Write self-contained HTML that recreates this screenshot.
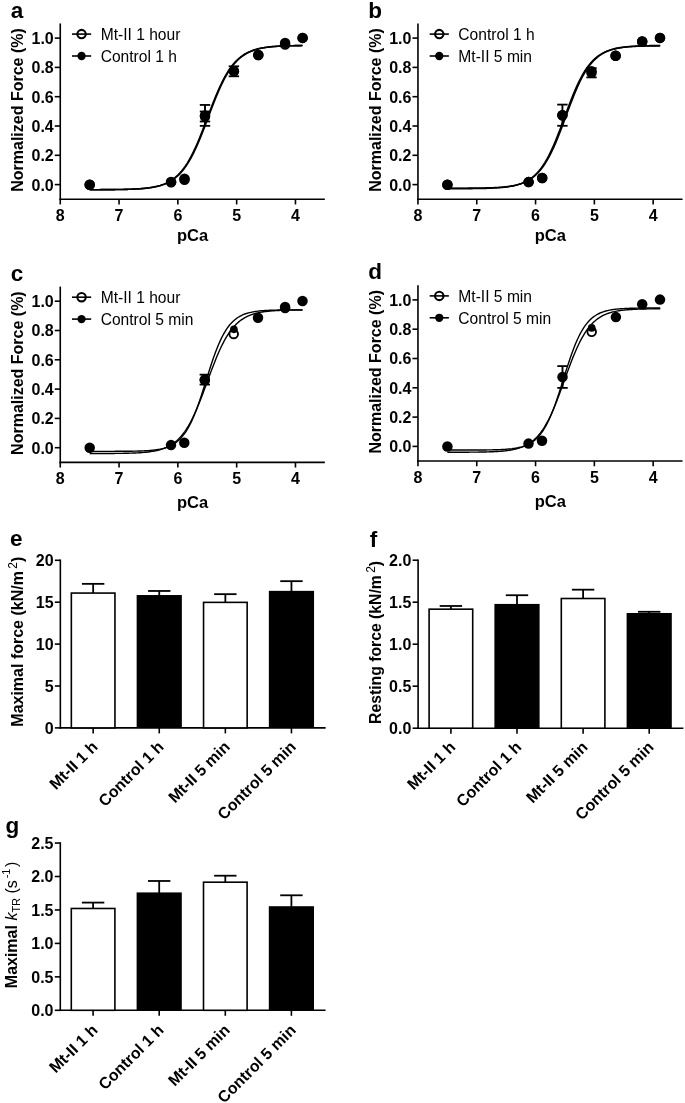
<!DOCTYPE html>
<html><head><meta charset="utf-8"><style>
html,body{margin:0;padding:0;background:#fff;}
svg{display:block;will-change:transform;}
text{font-family:"Liberation Sans", sans-serif;fill:#000;}
</style></head><body>
<svg width="685" height="1103" viewBox="0 0 685 1103">
<rect width="685" height="1103" fill="#fff"/>
<text x="10.66" y="17.50" font-size="22.5" font-weight="bold" text-anchor="start" >a</text>
<line x1="60.26" y1="23.45" x2="60.26" y2="200.05" stroke="#000" stroke-width="1.6"/>
<line x1="59.46" y1="199.25" x2="324.86" y2="199.25" stroke="#000" stroke-width="1.6"/>
<line x1="54.76" y1="184.60" x2="60.26" y2="184.60" stroke="#000" stroke-width="1.6"/>
<text x="53.76" y="190.50" font-size="16" font-weight="bold" text-anchor="end" >0.0</text>
<line x1="54.76" y1="155.30" x2="60.26" y2="155.30" stroke="#000" stroke-width="1.6"/>
<text x="53.76" y="161.20" font-size="16" font-weight="bold" text-anchor="end" >0.2</text>
<line x1="54.76" y1="126.00" x2="60.26" y2="126.00" stroke="#000" stroke-width="1.6"/>
<text x="53.76" y="131.90" font-size="16" font-weight="bold" text-anchor="end" >0.4</text>
<line x1="54.76" y1="96.70" x2="60.26" y2="96.70" stroke="#000" stroke-width="1.6"/>
<text x="53.76" y="102.60" font-size="16" font-weight="bold" text-anchor="end" >0.6</text>
<line x1="54.76" y1="67.40" x2="60.26" y2="67.40" stroke="#000" stroke-width="1.6"/>
<text x="53.76" y="73.30" font-size="16" font-weight="bold" text-anchor="end" >0.8</text>
<line x1="54.76" y1="38.10" x2="60.26" y2="38.10" stroke="#000" stroke-width="1.6"/>
<text x="53.76" y="44.00" font-size="16" font-weight="bold" text-anchor="end" >1.0</text>
<line x1="60.26" y1="199.25" x2="60.26" y2="204.45" stroke="#000" stroke-width="1.6"/>
<text x="60.26" y="221.05" font-size="16" font-weight="bold" text-anchor="middle" >8</text>
<line x1="119.06" y1="199.25" x2="119.06" y2="204.45" stroke="#000" stroke-width="1.6"/>
<text x="119.06" y="221.05" font-size="16" font-weight="bold" text-anchor="middle" >7</text>
<line x1="177.86" y1="199.25" x2="177.86" y2="204.45" stroke="#000" stroke-width="1.6"/>
<text x="177.86" y="221.05" font-size="16" font-weight="bold" text-anchor="middle" >6</text>
<line x1="236.66" y1="199.25" x2="236.66" y2="204.45" stroke="#000" stroke-width="1.6"/>
<text x="236.66" y="221.05" font-size="16" font-weight="bold" text-anchor="middle" >5</text>
<line x1="295.46" y1="199.25" x2="295.46" y2="204.45" stroke="#000" stroke-width="1.6"/>
<text x="295.46" y="221.05" font-size="16" font-weight="bold" text-anchor="middle" >4</text>
<text x="192.56" y="240.95" font-size="16.5" font-weight="bold" text-anchor="middle" >pCa</text>
<text x="0" y="0" font-size="16" font-weight="bold" text-anchor="middle" transform="translate(22.86,110.00) rotate(-90)">Normalized Force (%)</text>
<line x1="71.96" y1="34.10" x2="91.16" y2="34.10" stroke="#000" stroke-width="1.6"/>
<circle cx="81.56" cy="34.10" r="4.2" fill="none" stroke="#000" stroke-width="2.1"/>
<text x="100.66" y="39.80" font-size="15.6" font-weight="normal" text-anchor="start" >Mt-II 1 hour</text>
<line x1="71.96" y1="56.00" x2="91.16" y2="56.00" stroke="#000" stroke-width="1.6"/>
<circle cx="81.56" cy="56.00" r="4.15" fill="#000"/>
<text x="100.66" y="61.70" font-size="15.6" font-weight="normal" text-anchor="start" >Control 1 h</text>
<polyline points="89.66,189.70 90.84,189.70 92.01,189.70 93.19,189.70 94.36,189.69 95.54,189.69 96.72,189.69 97.89,189.68 99.07,189.68 100.24,189.68 101.42,189.67 102.60,189.67 103.77,189.66 104.95,189.66 106.12,189.65 107.30,189.64 108.48,189.63 109.65,189.63 110.83,189.62 112.00,189.61 113.18,189.59 114.36,189.58 115.53,189.57 116.71,189.56 117.88,189.54 119.06,189.52 120.24,189.50 121.41,189.48 122.59,189.46 123.76,189.44 124.94,189.41 126.12,189.38 127.29,189.35 128.47,189.32 129.64,189.28 130.82,189.24 132.00,189.20 133.17,189.15 134.35,189.10 135.52,189.04 136.70,188.98 137.88,188.91 139.05,188.84 140.23,188.76 141.40,188.67 142.58,188.58 143.76,188.48 144.93,188.37 146.11,188.24 147.28,188.11 148.46,187.97 149.64,187.81 150.81,187.64 151.99,187.45 153.16,187.25 154.34,187.03 155.52,186.79 156.69,186.53 157.87,186.25 159.04,185.94 160.22,185.61 161.40,185.25 162.57,184.86 163.75,184.44 164.92,183.98 166.10,183.48 167.28,182.94 168.45,182.36 169.63,181.73 170.80,181.05 171.98,180.31 173.16,179.52 174.33,178.67 175.51,177.75 176.68,176.77 177.86,175.71 179.04,174.57 180.21,173.36 181.39,172.06 182.56,170.67 183.74,169.20 184.92,167.62 186.09,165.95 187.27,164.18 188.44,162.31 189.62,160.34 190.80,158.26 191.97,156.08 193.15,153.79 194.32,151.41 195.50,148.92 196.68,146.34 197.85,143.67 199.03,140.91 200.20,138.08 201.38,135.17 202.56,132.21 203.73,129.19 204.91,126.13 206.08,123.03 207.26,119.92 208.44,116.80 209.61,113.68 210.79,110.57 211.96,107.49 213.14,104.45 214.32,101.46 215.49,98.52 216.67,95.65 217.84,92.85 219.02,90.14 220.20,87.51 221.37,84.98 222.55,82.54 223.72,80.20 224.90,77.97 226.08,75.84 227.25,73.81 228.43,71.89 229.60,70.07 230.78,68.35 231.96,66.73 233.13,65.21 234.31,63.77 235.48,62.43 236.66,61.17 237.84,60.00 239.01,58.90 240.19,57.88 241.36,56.93 242.54,56.05 243.72,55.23 244.89,54.47 246.07,53.76 247.24,53.10 248.42,52.50 249.60,51.94 250.77,51.42 251.95,50.94 253.12,50.50 254.30,50.09 255.48,49.72 256.65,49.37 257.83,49.05 259.00,48.76 260.18,48.49 261.36,48.24 262.53,48.01 263.71,47.80 264.88,47.61 266.06,47.43 267.24,47.26 268.41,47.11 269.59,46.97 270.76,46.85 271.94,46.73 273.12,46.62 274.29,46.52 275.47,46.43 276.64,46.35 277.82,46.27 279.00,46.20 280.17,46.14 281.35,46.08 282.52,46.03 283.70,45.98 284.88,45.93 286.05,45.89 287.23,45.85 288.40,45.82 289.58,45.78 290.76,45.75 291.93,45.73 293.11,45.70 294.28,45.68 295.46,45.66 296.64,45.64 297.81,45.62 298.99,45.60 300.16,45.59 301.34,45.58 302.52,45.56" fill="none" stroke="#000" stroke-width="1.6"/>
<polyline points="89.66,189.70 90.84,189.70 92.01,189.70 93.19,189.70 94.36,189.69 95.54,189.69 96.72,189.69 97.89,189.68 99.07,189.68 100.24,189.67 101.42,189.67 102.60,189.66 103.77,189.66 104.95,189.65 106.12,189.64 107.30,189.64 108.48,189.63 109.65,189.62 110.83,189.61 112.00,189.60 113.18,189.59 114.36,189.58 115.53,189.56 116.71,189.55 117.88,189.53 119.06,189.51 120.24,189.49 121.41,189.47 122.59,189.45 123.76,189.42 124.94,189.40 126.12,189.37 127.29,189.33 128.47,189.30 129.64,189.26 130.82,189.22 132.00,189.17 133.17,189.12 134.35,189.07 135.52,189.01 136.70,188.94 137.88,188.87 139.05,188.79 140.23,188.71 141.40,188.62 142.58,188.52 143.76,188.41 144.93,188.29 146.11,188.17 147.28,188.03 148.46,187.87 149.64,187.71 150.81,187.53 151.99,187.33 153.16,187.12 154.34,186.89 155.52,186.64 156.69,186.37 157.87,186.07 159.04,185.75 160.22,185.40 161.40,185.02 162.57,184.61 163.75,184.16 164.92,183.68 166.10,183.16 167.28,182.60 168.45,181.98 169.63,181.33 170.80,180.61 171.98,179.85 173.16,179.02 174.33,178.13 175.51,177.17 176.68,176.14 177.86,175.04 179.04,173.86 180.21,172.59 181.39,171.24 182.56,169.80 183.74,168.26 184.92,166.63 186.09,164.90 187.27,163.07 188.44,161.14 189.62,159.10 190.80,156.96 191.97,154.72 193.15,152.37 194.32,149.93 195.50,147.38 196.68,144.75 197.85,142.03 199.03,139.22 200.20,136.34 201.38,133.40 202.56,130.40 203.73,127.35 204.91,124.27 206.08,121.17 207.26,118.04 208.44,114.92 209.61,111.81 210.79,108.72 211.96,105.66 213.14,102.65 214.32,99.69 215.49,96.79 216.67,93.96 217.84,91.21 219.02,88.55 220.20,85.98 221.37,83.50 222.55,81.13 223.72,78.85 224.90,76.68 226.08,74.61 227.25,72.65 228.43,70.79 229.60,69.03 230.78,67.37 231.96,65.80 233.13,64.34 234.31,62.96 235.48,61.67 236.66,60.46 237.84,59.33 239.01,58.28 240.19,57.30 241.36,56.39 242.54,55.55 243.72,54.76 244.89,54.03 246.07,53.36 247.24,52.74 248.42,52.16 249.60,51.62 250.77,51.13 251.95,50.67 253.12,50.25 254.30,49.86 255.48,49.51 256.65,49.18 257.83,48.87 259.00,48.59 260.18,48.34 261.36,48.10 262.53,47.88 263.71,47.68 264.88,47.50 266.06,47.33 267.24,47.17 268.41,47.03 269.59,46.90 270.76,46.78 271.94,46.66 273.12,46.56 274.29,46.47 275.47,46.38 276.64,46.30 277.82,46.23 279.00,46.16 280.17,46.10 281.35,46.05 282.52,46.00 283.70,45.95 284.88,45.91 286.05,45.87 287.23,45.83 288.40,45.80 289.58,45.77 290.76,45.74 291.93,45.71 293.11,45.69 294.28,45.67 295.46,45.65 296.64,45.63 297.81,45.61 298.99,45.60 300.16,45.58 301.34,45.57 302.52,45.56" fill="none" stroke="#000" stroke-width="1.6"/>
<line x1="205.00" y1="104.95" x2="205.00" y2="125.85" stroke="#000" stroke-width="1.9"/>
<line x1="233.90" y1="66.30" x2="233.90" y2="76.30" stroke="#000" stroke-width="1.9"/>
<line x1="205.00" y1="111.50" x2="205.00" y2="121.50" stroke="#000" stroke-width="1.9"/>
<circle cx="89.70" cy="184.70" r="4.3" fill="#fff" stroke="#000" stroke-width="1.9"/>
<circle cx="171.10" cy="182.30" r="4.3" fill="#fff" stroke="#000" stroke-width="1.9"/>
<circle cx="184.50" cy="179.80" r="4.3" fill="#fff" stroke="#000" stroke-width="1.9"/>
<circle cx="205.00" cy="115.40" r="4.3" fill="#fff" stroke="#000" stroke-width="1.9"/>
<circle cx="233.90" cy="71.30" r="4.3" fill="#fff" stroke="#000" stroke-width="1.9"/>
<circle cx="258.30" cy="55.00" r="4.3" fill="#fff" stroke="#000" stroke-width="1.9"/>
<circle cx="285.10" cy="44.60" r="4.3" fill="#fff" stroke="#000" stroke-width="1.9"/>
<circle cx="302.60" cy="37.90" r="4.3" fill="#fff" stroke="#000" stroke-width="1.9"/>
<circle cx="89.70" cy="184.70" r="5.25" fill="#000"/>
<circle cx="171.10" cy="181.90" r="5.25" fill="#000"/>
<circle cx="184.50" cy="178.80" r="5.25" fill="#000"/>
<circle cx="205.00" cy="116.50" r="5.25" fill="#000"/>
<circle cx="233.90" cy="71.30" r="5.25" fill="#000"/>
<circle cx="258.30" cy="55.00" r="5.25" fill="#000"/>
<circle cx="285.10" cy="42.90" r="5.25" fill="#000"/>
<circle cx="302.60" cy="37.90" r="5.25" fill="#000"/>
<line x1="199.80" y1="104.95" x2="210.20" y2="104.95" stroke="#000" stroke-width="1.8"/>
<line x1="199.80" y1="125.85" x2="210.20" y2="125.85" stroke="#000" stroke-width="1.8"/>
<line x1="228.70" y1="66.30" x2="239.10" y2="66.30" stroke="#000" stroke-width="1.8"/>
<line x1="228.70" y1="76.30" x2="239.10" y2="76.30" stroke="#000" stroke-width="1.8"/>
<line x1="199.80" y1="111.50" x2="210.20" y2="111.50" stroke="#000" stroke-width="1.8"/>
<line x1="199.80" y1="121.50" x2="210.20" y2="121.50" stroke="#000" stroke-width="1.8"/>
<text x="368.36" y="17.50" font-size="22.5" font-weight="bold" text-anchor="start" >b</text>
<line x1="417.96" y1="23.45" x2="417.96" y2="200.05" stroke="#000" stroke-width="1.6"/>
<line x1="417.16" y1="199.25" x2="682.56" y2="199.25" stroke="#000" stroke-width="1.6"/>
<line x1="412.46" y1="184.60" x2="417.96" y2="184.60" stroke="#000" stroke-width="1.6"/>
<text x="411.46" y="190.50" font-size="16" font-weight="bold" text-anchor="end" >0.0</text>
<line x1="412.46" y1="155.30" x2="417.96" y2="155.30" stroke="#000" stroke-width="1.6"/>
<text x="411.46" y="161.20" font-size="16" font-weight="bold" text-anchor="end" >0.2</text>
<line x1="412.46" y1="126.00" x2="417.96" y2="126.00" stroke="#000" stroke-width="1.6"/>
<text x="411.46" y="131.90" font-size="16" font-weight="bold" text-anchor="end" >0.4</text>
<line x1="412.46" y1="96.70" x2="417.96" y2="96.70" stroke="#000" stroke-width="1.6"/>
<text x="411.46" y="102.60" font-size="16" font-weight="bold" text-anchor="end" >0.6</text>
<line x1="412.46" y1="67.40" x2="417.96" y2="67.40" stroke="#000" stroke-width="1.6"/>
<text x="411.46" y="73.30" font-size="16" font-weight="bold" text-anchor="end" >0.8</text>
<line x1="412.46" y1="38.10" x2="417.96" y2="38.10" stroke="#000" stroke-width="1.6"/>
<text x="411.46" y="44.00" font-size="16" font-weight="bold" text-anchor="end" >1.0</text>
<line x1="417.96" y1="199.25" x2="417.96" y2="204.45" stroke="#000" stroke-width="1.6"/>
<text x="417.96" y="221.05" font-size="16" font-weight="bold" text-anchor="middle" >8</text>
<line x1="476.76" y1="199.25" x2="476.76" y2="204.45" stroke="#000" stroke-width="1.6"/>
<text x="476.76" y="221.05" font-size="16" font-weight="bold" text-anchor="middle" >7</text>
<line x1="535.56" y1="199.25" x2="535.56" y2="204.45" stroke="#000" stroke-width="1.6"/>
<text x="535.56" y="221.05" font-size="16" font-weight="bold" text-anchor="middle" >6</text>
<line x1="594.36" y1="199.25" x2="594.36" y2="204.45" stroke="#000" stroke-width="1.6"/>
<text x="594.36" y="221.05" font-size="16" font-weight="bold" text-anchor="middle" >5</text>
<line x1="653.16" y1="199.25" x2="653.16" y2="204.45" stroke="#000" stroke-width="1.6"/>
<text x="653.16" y="221.05" font-size="16" font-weight="bold" text-anchor="middle" >4</text>
<text x="550.26" y="240.95" font-size="16.5" font-weight="bold" text-anchor="middle" >pCa</text>
<text x="0" y="0" font-size="16" font-weight="bold" text-anchor="middle" transform="translate(380.56,110.00) rotate(-90)">Normalized Force (%)</text>
<line x1="429.66" y1="34.10" x2="448.86" y2="34.10" stroke="#000" stroke-width="1.6"/>
<circle cx="439.26" cy="34.10" r="4.2" fill="none" stroke="#000" stroke-width="2.1"/>
<text x="458.36" y="39.80" font-size="15.6" font-weight="normal" text-anchor="start" >Control 1 h</text>
<line x1="429.66" y1="56.00" x2="448.86" y2="56.00" stroke="#000" stroke-width="1.6"/>
<circle cx="439.26" cy="56.00" r="4.15" fill="#000"/>
<text x="458.36" y="61.70" font-size="15.6" font-weight="normal" text-anchor="start" >Mt-II 5 min</text>
<polyline points="447.36,188.24 448.54,188.24 449.71,188.24 450.89,188.24 452.06,188.24 453.24,188.23 454.42,188.23 455.59,188.23 456.77,188.23 457.94,188.22 459.12,188.22 460.30,188.22 461.47,188.21 462.65,188.21 463.82,188.20 465.00,188.19 466.18,188.19 467.35,188.18 468.53,188.17 469.70,188.17 470.88,188.16 472.06,188.15 473.23,188.14 474.41,188.12 475.58,188.11 476.76,188.10 477.94,188.08 479.11,188.06 480.29,188.05 481.46,188.03 482.64,188.00 483.82,187.98 484.99,187.95 486.17,187.92 487.34,187.89 488.52,187.86 489.70,187.82 490.87,187.78 492.05,187.73 493.22,187.69 494.40,187.63 495.58,187.57 496.75,187.51 497.93,187.44 499.10,187.36 500.28,187.28 501.46,187.19 502.63,187.09 503.81,186.98 504.98,186.86 506.16,186.73 507.34,186.59 508.51,186.44 509.69,186.27 510.86,186.08 512.04,185.88 513.22,185.67 514.39,185.43 515.57,185.17 516.74,184.89 517.92,184.58 519.10,184.24 520.27,183.88 521.45,183.48 522.62,183.05 523.80,182.59 524.98,182.08 526.15,181.53 527.33,180.93 528.50,180.29 529.68,179.58 530.86,178.83 532.03,178.01 533.21,177.13 534.38,176.17 535.56,175.15 536.74,174.04 537.91,172.86 539.09,171.59 540.26,170.22 541.44,168.77 542.62,167.22 543.79,165.56 544.97,163.80 546.14,161.94 547.32,159.97 548.50,157.88 549.67,155.69 550.85,153.39 552.02,150.98 553.20,148.47 554.38,145.85 555.55,143.14 556.73,140.34 557.90,137.46 559.08,134.50 560.26,131.47 561.43,128.39 562.61,125.26 563.78,122.10 564.96,118.92 566.14,115.73 567.31,112.54 568.49,109.37 569.66,106.24 570.84,103.14 572.02,100.09 573.19,97.11 574.37,94.20 575.54,91.38 576.72,88.64 577.90,85.99 579.07,83.45 580.25,81.01 581.42,78.67 582.60,76.45 583.78,74.34 584.95,72.33 586.13,70.43 587.30,68.64 588.48,66.96 589.66,65.37 590.83,63.89 592.01,62.50 593.18,61.20 594.36,59.99 595.54,58.86 596.71,57.81 597.89,56.84 599.06,55.94 600.24,55.10 601.42,54.32 602.59,53.61 603.77,52.94 604.94,52.33 606.12,51.77 607.30,51.25 608.47,50.77 609.65,50.33 610.82,49.92 612.00,49.55 613.18,49.21 614.35,48.89 615.53,48.60 616.70,48.34 617.88,48.09 619.06,47.87 620.23,47.66 621.41,47.47 622.58,47.30 623.76,47.14 624.94,47.00 626.11,46.86 627.29,46.74 628.46,46.63 629.64,46.53 630.82,46.43 631.99,46.35 633.17,46.27 634.34,46.20 635.52,46.13 636.70,46.07 637.87,46.02 639.05,45.97 640.22,45.92 641.40,45.88 642.58,45.84 643.75,45.80 644.93,45.77 646.10,45.74 647.28,45.72 648.46,45.69 649.63,45.67 650.81,45.65 651.98,45.63 653.16,45.61 654.34,45.60 655.51,45.58 656.69,45.57 657.86,45.56 659.04,45.54 660.22,45.53" fill="none" stroke="#000" stroke-width="1.6"/>
<polyline points="447.36,188.68 448.54,188.68 449.71,188.68 450.89,188.68 452.06,188.67 453.24,188.67 454.42,188.67 455.59,188.67 456.77,188.66 457.94,188.66 459.12,188.65 460.30,188.65 461.47,188.65 462.65,188.64 463.82,188.63 465.00,188.63 466.18,188.62 467.35,188.61 468.53,188.60 469.70,188.60 470.88,188.59 472.06,188.58 473.23,188.56 474.41,188.55 475.58,188.54 476.76,188.52 477.94,188.50 479.11,188.49 480.29,188.47 481.46,188.44 482.64,188.42 483.82,188.39 484.99,188.36 486.17,188.33 487.34,188.30 488.52,188.26 489.70,188.22 490.87,188.17 492.05,188.12 493.22,188.07 494.40,188.01 495.58,187.95 496.75,187.88 497.93,187.80 499.10,187.72 500.28,187.63 501.46,187.53 502.63,187.42 503.81,187.30 504.98,187.17 506.16,187.03 507.34,186.87 508.51,186.71 509.69,186.52 510.86,186.32 512.04,186.10 513.22,185.86 514.39,185.60 515.57,185.32 516.74,185.01 517.92,184.68 519.10,184.32 520.27,183.92 521.45,183.49 522.62,183.02 523.80,182.51 524.98,181.96 526.15,181.36 527.33,180.72 528.50,180.02 529.68,179.26 530.86,178.44 532.03,177.55 533.21,176.60 534.38,175.57 535.56,174.47 536.74,173.28 537.91,172.01 539.09,170.65 540.26,169.19 541.44,167.63 542.62,165.98 543.79,164.22 544.97,162.35 546.14,160.38 547.32,158.29 548.50,156.10 549.67,153.79 550.85,151.38 552.02,148.87 553.20,146.25 554.38,143.54 555.55,140.73 556.73,137.84 557.90,134.88 559.08,131.85 560.26,128.76 561.43,125.63 562.61,122.47 563.78,119.29 564.96,116.09 566.14,112.90 567.31,109.73 568.49,106.59 569.66,103.49 570.84,100.44 572.02,97.46 573.19,94.55 574.37,91.72 575.54,88.97 576.72,86.33 577.90,83.78 579.07,81.34 580.25,79.00 581.42,76.77 582.60,74.66 583.78,72.65 584.95,70.75 586.13,68.96 587.30,67.27 588.48,65.69 589.66,64.20 590.83,62.81 592.01,61.51 593.18,60.30 594.36,59.17 595.54,58.12 596.71,57.15 597.89,56.24 599.06,55.40 600.24,54.63 601.42,53.91 602.59,53.24 603.77,52.63 604.94,52.07 606.12,51.55 607.30,51.07 608.47,50.63 609.65,50.22 610.82,49.85 612.00,49.50 613.18,49.19 614.35,48.90 615.53,48.63 616.70,48.39 617.88,48.16 619.06,47.96 620.23,47.77 621.41,47.60 622.58,47.44 623.76,47.29 624.94,47.16 626.11,47.04 627.29,46.92 628.46,46.82 629.64,46.73 630.82,46.64 631.99,46.56 633.17,46.49 634.34,46.43 635.52,46.37 636.70,46.31 637.87,46.26 639.05,46.21 640.22,46.17 641.40,46.13 642.58,46.10 643.75,46.07 644.93,46.04 646.10,46.01 647.28,45.98 648.46,45.96 649.63,45.94 650.81,45.92 651.98,45.90 653.16,45.89 654.34,45.87 655.51,45.86 656.69,45.85 657.86,45.84 659.04,45.83 660.22,45.82" fill="none" stroke="#000" stroke-width="1.6"/>
<line x1="562.40" y1="104.60" x2="562.40" y2="125.80" stroke="#000" stroke-width="1.9"/>
<line x1="591.50" y1="68.20" x2="591.50" y2="77.40" stroke="#000" stroke-width="1.9"/>
<circle cx="447.40" cy="184.70" r="4.3" fill="#fff" stroke="#000" stroke-width="1.9"/>
<circle cx="528.60" cy="182.10" r="4.3" fill="#fff" stroke="#000" stroke-width="1.9"/>
<circle cx="542.20" cy="178.00" r="4.3" fill="#fff" stroke="#000" stroke-width="1.9"/>
<circle cx="562.40" cy="115.20" r="4.3" fill="#fff" stroke="#000" stroke-width="1.9"/>
<circle cx="591.50" cy="72.80" r="4.3" fill="#fff" stroke="#000" stroke-width="1.9"/>
<circle cx="615.60" cy="55.80" r="4.3" fill="#fff" stroke="#000" stroke-width="1.9"/>
<circle cx="642.20" cy="41.50" r="4.3" fill="#fff" stroke="#000" stroke-width="1.9"/>
<circle cx="660.00" cy="37.90" r="4.3" fill="#fff" stroke="#000" stroke-width="1.9"/>
<circle cx="447.40" cy="184.70" r="5.25" fill="#000"/>
<circle cx="528.60" cy="182.10" r="5.25" fill="#000"/>
<circle cx="542.20" cy="178.00" r="5.25" fill="#000"/>
<circle cx="562.40" cy="115.20" r="5.25" fill="#000"/>
<circle cx="591.50" cy="71.20" r="5.25" fill="#000"/>
<circle cx="615.60" cy="55.80" r="5.25" fill="#000"/>
<circle cx="642.20" cy="41.50" r="5.25" fill="#000"/>
<circle cx="660.00" cy="37.90" r="5.25" fill="#000"/>
<line x1="557.20" y1="104.60" x2="567.60" y2="104.60" stroke="#000" stroke-width="1.8"/>
<line x1="557.20" y1="125.80" x2="567.60" y2="125.80" stroke="#000" stroke-width="1.8"/>
<line x1="586.30" y1="68.20" x2="596.70" y2="68.20" stroke="#000" stroke-width="1.8"/>
<line x1="586.30" y1="77.40" x2="596.70" y2="77.40" stroke="#000" stroke-width="1.8"/>
<text x="10.66" y="280.60" font-size="22.5" font-weight="bold" text-anchor="start" >c</text>
<line x1="60.26" y1="286.55" x2="60.26" y2="463.15" stroke="#000" stroke-width="1.6"/>
<line x1="59.46" y1="462.35" x2="324.86" y2="462.35" stroke="#000" stroke-width="1.6"/>
<line x1="54.76" y1="447.70" x2="60.26" y2="447.70" stroke="#000" stroke-width="1.6"/>
<text x="53.76" y="453.60" font-size="16" font-weight="bold" text-anchor="end" >0.0</text>
<line x1="54.76" y1="418.40" x2="60.26" y2="418.40" stroke="#000" stroke-width="1.6"/>
<text x="53.76" y="424.30" font-size="16" font-weight="bold" text-anchor="end" >0.2</text>
<line x1="54.76" y1="389.10" x2="60.26" y2="389.10" stroke="#000" stroke-width="1.6"/>
<text x="53.76" y="395.00" font-size="16" font-weight="bold" text-anchor="end" >0.4</text>
<line x1="54.76" y1="359.80" x2="60.26" y2="359.80" stroke="#000" stroke-width="1.6"/>
<text x="53.76" y="365.70" font-size="16" font-weight="bold" text-anchor="end" >0.6</text>
<line x1="54.76" y1="330.50" x2="60.26" y2="330.50" stroke="#000" stroke-width="1.6"/>
<text x="53.76" y="336.40" font-size="16" font-weight="bold" text-anchor="end" >0.8</text>
<line x1="54.76" y1="301.20" x2="60.26" y2="301.20" stroke="#000" stroke-width="1.6"/>
<text x="53.76" y="307.10" font-size="16" font-weight="bold" text-anchor="end" >1.0</text>
<line x1="60.26" y1="462.35" x2="60.26" y2="467.55" stroke="#000" stroke-width="1.6"/>
<text x="60.26" y="484.15" font-size="16" font-weight="bold" text-anchor="middle" >8</text>
<line x1="119.06" y1="462.35" x2="119.06" y2="467.55" stroke="#000" stroke-width="1.6"/>
<text x="119.06" y="484.15" font-size="16" font-weight="bold" text-anchor="middle" >7</text>
<line x1="177.86" y1="462.35" x2="177.86" y2="467.55" stroke="#000" stroke-width="1.6"/>
<text x="177.86" y="484.15" font-size="16" font-weight="bold" text-anchor="middle" >6</text>
<line x1="236.66" y1="462.35" x2="236.66" y2="467.55" stroke="#000" stroke-width="1.6"/>
<text x="236.66" y="484.15" font-size="16" font-weight="bold" text-anchor="middle" >5</text>
<line x1="295.46" y1="462.35" x2="295.46" y2="467.55" stroke="#000" stroke-width="1.6"/>
<text x="295.46" y="484.15" font-size="16" font-weight="bold" text-anchor="middle" >4</text>
<text x="192.56" y="508.25" font-size="16.5" font-weight="bold" text-anchor="middle" >pCa</text>
<text x="0" y="0" font-size="16" font-weight="bold" text-anchor="middle" transform="translate(22.86,373.10) rotate(-90)">Normalized Force (%)</text>
<line x1="71.96" y1="297.20" x2="91.16" y2="297.20" stroke="#000" stroke-width="1.6"/>
<circle cx="81.56" cy="297.20" r="4.2" fill="none" stroke="#000" stroke-width="2.1"/>
<text x="100.66" y="302.90" font-size="15.6" font-weight="normal" text-anchor="start" >Mt-II 1 hour</text>
<line x1="71.96" y1="319.10" x2="91.16" y2="319.10" stroke="#000" stroke-width="1.6"/>
<circle cx="81.56" cy="319.10" r="4.15" fill="#000"/>
<text x="100.66" y="324.80" font-size="15.6" font-weight="normal" text-anchor="start" >Control 5 min</text>
<polyline points="89.66,451.36 90.84,451.36 92.01,451.36 93.19,451.36 94.36,451.36 95.54,451.36 96.72,451.36 97.89,451.35 99.07,451.35 100.24,451.35 101.42,451.35 102.60,451.35 103.77,451.35 104.95,451.35 106.12,451.35 107.30,451.34 108.48,451.34 109.65,451.34 110.83,451.34 112.00,451.33 113.18,451.33 114.36,451.33 115.53,451.32 116.71,451.32 117.88,451.31 119.06,451.31 120.24,451.30 121.41,451.29 122.59,451.29 123.76,451.28 124.94,451.27 126.12,451.26 127.29,451.25 128.47,451.23 129.64,451.22 130.82,451.20 132.00,451.18 133.17,451.16 134.35,451.14 135.52,451.12 136.70,451.09 137.88,451.06 139.05,451.03 140.23,450.99 141.40,450.95 142.58,450.90 143.76,450.85 144.93,450.79 146.11,450.73 147.28,450.66 148.46,450.58 149.64,450.49 150.81,450.39 151.99,450.29 153.16,450.17 154.34,450.04 155.52,449.89 156.69,449.73 157.87,449.55 159.04,449.35 160.22,449.12 161.40,448.88 162.57,448.61 163.75,448.31 164.92,447.97 166.10,447.60 167.28,447.20 168.45,446.74 169.63,446.25 170.80,445.70 171.98,445.09 173.16,444.43 174.33,443.70 175.51,442.89 176.68,442.01 177.86,441.04 179.04,439.98 180.21,438.82 181.39,437.55 182.56,436.17 183.74,434.68 184.92,433.05 186.09,431.30 187.27,429.40 188.44,427.37 189.62,425.18 190.80,422.85 191.97,420.36 193.15,417.72 194.32,414.93 195.50,411.99 196.68,408.91 197.85,405.70 199.03,402.36 200.20,398.91 201.38,395.37 202.56,391.75 203.73,388.07 204.91,384.35 206.08,380.60 207.26,376.86 208.44,373.14 209.61,369.45 210.79,365.83 211.96,362.29 213.14,358.85 214.32,355.51 215.49,352.30 216.67,349.22 217.84,346.28 219.02,343.49 220.20,340.85 221.37,338.36 222.55,336.02 223.72,333.84 224.90,331.80 226.08,329.91 227.25,328.15 228.43,326.53 229.60,325.03 230.78,323.65 231.96,322.39 233.13,321.23 234.31,320.17 235.48,319.20 236.66,318.32 237.84,317.51 239.01,316.78 240.19,316.11 241.36,315.51 242.54,314.96 243.72,314.46 244.89,314.01 246.07,313.60 247.24,313.23 248.42,312.90 249.60,312.60 250.77,312.33 251.95,312.08 253.12,311.86 254.30,311.66 255.48,311.48 256.65,311.32 257.83,311.17 259.00,311.04 260.18,310.92 261.36,310.81 262.53,310.71 263.71,310.63 264.88,310.55 266.06,310.48 267.24,310.42 268.41,310.36 269.59,310.31 270.76,310.26 271.94,310.22 273.12,310.18 274.29,310.15 275.47,310.12 276.64,310.09 277.82,310.06 279.00,310.04 280.17,310.02 281.35,310.00 282.52,309.99 283.70,309.97 284.88,309.96 286.05,309.95 287.23,309.94 288.40,309.93 289.58,309.92 290.76,309.91 291.93,309.91 293.11,309.90 294.28,309.89 295.46,309.89 296.64,309.88 297.81,309.88 298.99,309.88 300.16,309.87 301.34,309.87 302.52,309.87" fill="none" stroke="#000" stroke-width="1.4"/>
<polyline points="89.66,453.54 90.84,453.54 92.01,453.54 93.19,453.54 94.36,453.53 95.54,453.53 96.72,453.53 97.89,453.52 99.07,453.52 100.24,453.52 101.42,453.51 102.60,453.51 103.77,453.50 104.95,453.50 106.12,453.49 107.30,453.49 108.48,453.48 109.65,453.47 110.83,453.47 112.00,453.46 113.18,453.45 114.36,453.44 115.53,453.42 116.71,453.41 117.88,453.40 119.06,453.38 120.24,453.37 121.41,453.35 122.59,453.33 123.76,453.31 124.94,453.28 126.12,453.26 127.29,453.23 128.47,453.20 129.64,453.17 130.82,453.13 132.00,453.09 133.17,453.05 134.35,453.00 135.52,452.95 136.70,452.89 137.88,452.83 139.05,452.76 140.23,452.68 141.40,452.60 142.58,452.51 143.76,452.41 144.93,452.31 146.11,452.19 147.28,452.07 148.46,451.93 149.64,451.78 150.81,451.61 151.99,451.43 153.16,451.24 154.34,451.03 155.52,450.79 156.69,450.54 157.87,450.27 159.04,449.96 160.22,449.64 161.40,449.28 162.57,448.90 163.75,448.48 164.92,448.02 166.10,447.52 167.28,446.98 168.45,446.40 169.63,445.77 170.80,445.08 171.98,444.34 173.16,443.54 174.33,442.67 175.51,441.74 176.68,440.73 177.86,439.65 179.04,438.49 180.21,437.24 181.39,435.90 182.56,434.47 183.74,432.94 184.92,431.31 186.09,429.58 187.27,427.74 188.44,425.80 189.62,423.74 190.80,421.57 191.97,419.30 193.15,416.91 194.32,414.42 195.50,411.82 196.68,409.13 197.85,406.34 199.03,403.47 200.20,400.51 201.38,397.49 202.56,394.41 203.73,391.27 204.91,388.10 206.08,384.91 207.26,381.70 208.44,378.49 209.61,375.30 210.79,372.13 211.96,369.00 213.14,365.91 214.32,362.89 215.49,359.94 216.67,357.06 217.84,354.27 219.02,351.58 220.20,348.98 221.37,346.49 222.55,344.11 223.72,341.83 224.90,339.66 226.08,337.61 227.25,335.66 228.43,333.82 229.60,332.09 230.78,330.46 231.96,328.93 233.13,327.50 234.31,326.16 235.48,324.92 236.66,323.75 237.84,322.67 239.01,321.66 240.19,320.73 241.36,319.86 242.54,319.06 243.72,318.32 244.89,317.64 246.07,317.00 247.24,316.42 248.42,315.88 249.60,315.39 250.77,314.93 251.95,314.51 253.12,314.12 254.30,313.77 255.48,313.44 256.65,313.14 257.83,312.86 259.00,312.61 260.18,312.38 261.36,312.16 262.53,311.97 263.71,311.79 264.88,311.63 266.06,311.47 267.24,311.34 268.41,311.21 269.59,311.09 270.76,310.99 271.94,310.89 273.12,310.80 274.29,310.72 275.47,310.65 276.64,310.58 277.82,310.52 279.00,310.46 280.17,310.41 281.35,310.36 282.52,310.31 283.70,310.27 284.88,310.24 286.05,310.20 287.23,310.17 288.40,310.15 289.58,310.12 290.76,310.10 291.93,310.07 293.11,310.05 294.28,310.04 295.46,310.02 296.64,310.01 297.81,309.99 298.99,309.98 300.16,309.97 301.34,309.96 302.52,309.95" fill="none" stroke="#000" stroke-width="1.4"/>
<line x1="204.80" y1="374.65" x2="204.80" y2="384.55" stroke="#000" stroke-width="1.9"/>
<circle cx="204.80" cy="380.30" r="4.3" fill="#fff" stroke="#000" stroke-width="1.9"/>
<circle cx="285.10" cy="308.10" r="4.3" fill="#fff" stroke="#000" stroke-width="1.9"/>
<circle cx="89.70" cy="447.80" r="5.25" fill="#000"/>
<circle cx="171.00" cy="445.10" r="5.25" fill="#000"/>
<circle cx="184.30" cy="442.80" r="5.25" fill="#000"/>
<circle cx="204.80" cy="379.60" r="5.25" fill="#000"/>
<circle cx="258.00" cy="317.70" r="5.25" fill="#000"/>
<circle cx="285.10" cy="306.90" r="5.25" fill="#000"/>
<circle cx="302.50" cy="301.00" r="5.25" fill="#000"/>
<circle cx="233.70" cy="334.00" r="4.3" fill="#fff" stroke="#000" stroke-width="1.9"/>
<circle cx="233.90" cy="329.30" r="3.85" fill="#000"/>
<line x1="199.60" y1="374.65" x2="210.00" y2="374.65" stroke="#000" stroke-width="1.8"/>
<line x1="199.60" y1="384.55" x2="210.00" y2="384.55" stroke="#000" stroke-width="1.8"/>
<text x="368.36" y="279.30" font-size="22.5" font-weight="bold" text-anchor="start" >d</text>
<line x1="417.96" y1="285.25" x2="417.96" y2="461.85" stroke="#000" stroke-width="1.6"/>
<line x1="417.16" y1="461.05" x2="682.56" y2="461.05" stroke="#000" stroke-width="1.6"/>
<line x1="412.46" y1="446.40" x2="417.96" y2="446.40" stroke="#000" stroke-width="1.6"/>
<text x="411.46" y="452.30" font-size="16" font-weight="bold" text-anchor="end" >0.0</text>
<line x1="412.46" y1="417.10" x2="417.96" y2="417.10" stroke="#000" stroke-width="1.6"/>
<text x="411.46" y="423.00" font-size="16" font-weight="bold" text-anchor="end" >0.2</text>
<line x1="412.46" y1="387.80" x2="417.96" y2="387.80" stroke="#000" stroke-width="1.6"/>
<text x="411.46" y="393.70" font-size="16" font-weight="bold" text-anchor="end" >0.4</text>
<line x1="412.46" y1="358.50" x2="417.96" y2="358.50" stroke="#000" stroke-width="1.6"/>
<text x="411.46" y="364.40" font-size="16" font-weight="bold" text-anchor="end" >0.6</text>
<line x1="412.46" y1="329.20" x2="417.96" y2="329.20" stroke="#000" stroke-width="1.6"/>
<text x="411.46" y="335.10" font-size="16" font-weight="bold" text-anchor="end" >0.8</text>
<line x1="412.46" y1="299.90" x2="417.96" y2="299.90" stroke="#000" stroke-width="1.6"/>
<text x="411.46" y="305.80" font-size="16" font-weight="bold" text-anchor="end" >1.0</text>
<line x1="417.96" y1="461.05" x2="417.96" y2="466.25" stroke="#000" stroke-width="1.6"/>
<text x="417.96" y="482.85" font-size="16" font-weight="bold" text-anchor="middle" >8</text>
<line x1="476.76" y1="461.05" x2="476.76" y2="466.25" stroke="#000" stroke-width="1.6"/>
<text x="476.76" y="482.85" font-size="16" font-weight="bold" text-anchor="middle" >7</text>
<line x1="535.56" y1="461.05" x2="535.56" y2="466.25" stroke="#000" stroke-width="1.6"/>
<text x="535.56" y="482.85" font-size="16" font-weight="bold" text-anchor="middle" >6</text>
<line x1="594.36" y1="461.05" x2="594.36" y2="466.25" stroke="#000" stroke-width="1.6"/>
<text x="594.36" y="482.85" font-size="16" font-weight="bold" text-anchor="middle" >5</text>
<line x1="653.16" y1="461.05" x2="653.16" y2="466.25" stroke="#000" stroke-width="1.6"/>
<text x="653.16" y="482.85" font-size="16" font-weight="bold" text-anchor="middle" >4</text>
<text x="550.26" y="506.95" font-size="16.5" font-weight="bold" text-anchor="middle" >pCa</text>
<text x="0" y="0" font-size="16" font-weight="bold" text-anchor="middle" transform="translate(380.56,371.80) rotate(-90)">Normalized Force (%)</text>
<line x1="429.66" y1="295.90" x2="448.86" y2="295.90" stroke="#000" stroke-width="1.6"/>
<circle cx="439.26" cy="295.90" r="4.2" fill="none" stroke="#000" stroke-width="2.1"/>
<text x="458.36" y="301.60" font-size="15.6" font-weight="normal" text-anchor="start" >Mt-II 5 min</text>
<line x1="429.66" y1="317.80" x2="448.86" y2="317.80" stroke="#000" stroke-width="1.6"/>
<circle cx="439.26" cy="317.80" r="4.15" fill="#000"/>
<text x="458.36" y="323.50" font-size="15.6" font-weight="normal" text-anchor="start" >Control 5 min</text>
<polyline points="447.36,450.06 448.54,450.06 449.71,450.06 450.89,450.06 452.06,450.06 453.24,450.06 454.42,450.05 455.59,450.05 456.77,450.05 457.94,450.05 459.12,450.05 460.30,450.05 461.47,450.05 462.65,450.05 463.82,450.04 465.00,450.04 466.18,450.04 467.35,450.04 468.53,450.04 469.70,450.03 470.88,450.03 472.06,450.02 473.23,450.02 474.41,450.02 475.58,450.01 476.76,450.00 477.94,450.00 479.11,449.99 480.29,449.98 481.46,449.97 482.64,449.96 483.82,449.95 484.99,449.94 486.17,449.93 487.34,449.91 488.52,449.90 489.70,449.88 490.87,449.86 492.05,449.83 493.22,449.81 494.40,449.78 495.58,449.75 496.75,449.71 497.93,449.68 499.10,449.63 500.28,449.59 501.46,449.53 502.63,449.47 503.81,449.41 504.98,449.33 506.16,449.25 507.34,449.16 508.51,449.06 509.69,448.95 510.86,448.83 512.04,448.70 513.22,448.54 514.39,448.38 515.57,448.19 516.74,447.98 517.92,447.76 519.10,447.50 520.27,447.22 521.45,446.91 522.62,446.57 523.80,446.19 524.98,445.77 526.15,445.31 527.33,444.79 528.50,444.23 529.68,443.61 530.86,442.92 532.03,442.17 533.21,441.34 534.38,440.43 535.56,439.44 536.74,438.35 537.91,437.16 539.09,435.86 540.26,434.45 541.44,432.91 542.62,431.25 543.79,429.45 544.97,427.52 546.14,425.43 547.32,423.20 548.50,420.82 549.67,418.28 550.85,415.59 552.02,412.75 553.20,409.76 554.38,406.64 555.55,403.38 556.73,400.00 557.90,396.52 559.08,392.94 560.26,389.29 561.43,385.58 562.61,381.83 563.78,378.07 564.96,374.31 566.14,370.58 567.31,366.90 568.49,363.28 569.66,359.75 570.84,356.31 572.02,352.99 573.19,349.80 574.37,346.74 575.54,343.83 576.72,341.06 577.90,338.45 579.07,335.99 580.25,333.68 581.42,331.53 582.60,329.52 583.78,327.65 584.95,325.92 586.13,324.32 587.30,322.85 588.48,321.50 589.66,320.25 590.83,319.12 592.01,318.07 593.18,317.12 594.36,316.26 595.54,315.47 596.71,314.75 597.89,314.09 599.06,313.50 600.24,312.96 601.42,312.48 602.59,312.04 603.77,311.64 604.94,311.28 606.12,310.95 607.30,310.65 608.47,310.39 609.65,310.15 610.82,309.93 612.00,309.73 613.18,309.56 614.35,309.40 615.53,309.26 616.70,309.13 617.88,309.01 619.06,308.90 620.23,308.81 621.41,308.72 622.58,308.65 623.76,308.58 624.94,308.52 626.11,308.46 627.29,308.41 628.46,308.36 629.64,308.32 630.82,308.29 631.99,308.25 633.17,308.22 634.34,308.20 635.52,308.17 636.70,308.15 637.87,308.13 639.05,308.11 640.22,308.10 641.40,308.08 642.58,308.07 643.75,308.06 644.93,308.05 646.10,308.04 647.28,308.03 648.46,308.02 649.63,308.02 650.81,308.01 651.98,308.01 653.16,308.00 654.34,308.00 655.51,307.99 656.69,307.99 657.86,307.99 659.04,307.98 660.22,307.98" fill="none" stroke="#000" stroke-width="1.4"/>
<polyline points="447.36,452.24 448.54,452.24 449.71,452.24 450.89,452.24 452.06,452.24 453.24,452.23 454.42,452.23 455.59,452.23 456.77,452.23 457.94,452.22 459.12,452.22 460.30,452.22 461.47,452.21 462.65,452.21 463.82,452.20 465.00,452.20 466.18,452.19 467.35,452.18 468.53,452.18 469.70,452.17 470.88,452.16 472.06,452.15 473.23,452.14 474.41,452.13 475.58,452.11 476.76,452.10 477.94,452.08 479.11,452.07 480.29,452.05 481.46,452.03 482.64,452.01 483.82,451.98 484.99,451.96 486.17,451.93 487.34,451.90 488.52,451.86 489.70,451.82 490.87,451.78 492.05,451.74 493.22,451.69 494.40,451.63 495.58,451.57 496.75,451.51 497.93,451.43 499.10,451.36 500.28,451.27 501.46,451.18 502.63,451.07 503.81,450.96 504.98,450.84 506.16,450.70 507.34,450.56 508.51,450.40 509.69,450.22 510.86,450.03 512.04,449.82 513.22,449.59 514.39,449.34 515.57,449.07 516.74,448.77 517.92,448.45 519.10,448.09 520.27,447.71 521.45,447.29 522.62,446.83 523.80,446.34 524.98,445.80 526.15,445.21 527.33,444.57 528.50,443.88 529.68,443.13 530.86,442.32 532.03,441.44 533.21,440.50 534.38,439.47 535.56,438.37 536.74,437.18 537.91,435.91 539.09,434.54 540.26,433.07 541.44,431.51 542.62,429.84 543.79,428.06 544.97,426.17 546.14,424.16 547.32,422.04 548.50,419.81 549.67,417.46 550.85,415.00 552.02,412.43 553.20,409.76 554.38,406.98 555.55,404.11 556.73,401.15 557.90,398.11 559.08,395.00 560.26,391.83 561.43,388.62 562.61,385.38 563.78,382.11 564.96,378.84 566.14,375.57 567.31,372.33 568.49,369.12 569.66,365.95 570.84,362.84 572.02,359.80 573.19,356.84 574.37,353.97 575.54,351.19 576.72,348.52 577.90,345.95 579.07,343.49 580.25,341.14 581.42,338.91 582.60,336.79 583.78,334.78 584.95,332.89 586.13,331.11 587.30,329.44 588.48,327.88 589.66,326.41 590.83,325.04 592.01,323.77 593.18,322.58 594.36,321.48 595.54,320.45 596.71,319.51 597.89,318.63 599.06,317.82 600.24,317.07 601.42,316.38 602.59,315.74 603.77,315.15 604.94,314.61 606.12,314.12 607.30,313.66 608.47,313.24 609.65,312.86 610.82,312.50 612.00,312.18 613.18,311.88 614.35,311.61 615.53,311.36 616.70,311.13 617.88,310.92 619.06,310.73 620.23,310.55 621.41,310.39 622.58,310.25 623.76,310.11 624.94,309.99 626.11,309.88 627.29,309.77 628.46,309.68 629.64,309.59 630.82,309.52 631.99,309.44 633.17,309.38 634.34,309.32 635.52,309.26 636.70,309.21 637.87,309.17 639.05,309.13 640.22,309.09 641.40,309.05 642.58,309.02 643.75,308.99 644.93,308.97 646.10,308.94 647.28,308.92 648.46,308.90 649.63,308.88 650.81,308.87 651.98,308.85 653.16,308.84 654.34,308.82 655.51,308.81 656.69,308.80 657.86,308.79 659.04,308.78 660.22,308.77" fill="none" stroke="#000" stroke-width="1.4"/>
<line x1="562.50" y1="366.10" x2="562.50" y2="387.90" stroke="#000" stroke-width="1.9"/>
<circle cx="447.40" cy="446.50" r="5.25" fill="#000"/>
<circle cx="528.50" cy="443.60" r="5.25" fill="#000"/>
<circle cx="542.00" cy="440.80" r="5.25" fill="#000"/>
<circle cx="562.50" cy="377.00" r="5.25" fill="#000"/>
<circle cx="615.90" cy="317.10" r="5.25" fill="#000"/>
<circle cx="642.20" cy="304.30" r="5.25" fill="#000"/>
<circle cx="660.00" cy="299.60" r="5.25" fill="#000"/>
<circle cx="591.70" cy="331.80" r="4.3" fill="#fff" stroke="#000" stroke-width="1.9"/>
<circle cx="591.70" cy="327.90" r="3.85" fill="#000"/>
<line x1="557.30" y1="366.10" x2="567.70" y2="366.10" stroke="#000" stroke-width="1.8"/>
<line x1="557.30" y1="387.90" x2="567.70" y2="387.90" stroke="#000" stroke-width="1.8"/>
<text x="10.05" y="545.90" font-size="22.5" font-weight="bold" text-anchor="start" >e</text>
<line x1="60.35" y1="559.50" x2="60.35" y2="728.70" stroke="#000" stroke-width="1.6"/>
<line x1="59.55" y1="727.90" x2="325.65" y2="727.90" stroke="#000" stroke-width="1.6"/>
<line x1="54.85" y1="727.90" x2="60.35" y2="727.90" stroke="#000" stroke-width="1.6"/>
<text x="53.55" y="733.60" font-size="16" font-weight="bold" text-anchor="end" >0</text>
<line x1="54.85" y1="686.00" x2="60.35" y2="686.00" stroke="#000" stroke-width="1.6"/>
<text x="53.55" y="691.70" font-size="16" font-weight="bold" text-anchor="end" >5</text>
<line x1="54.85" y1="644.10" x2="60.35" y2="644.10" stroke="#000" stroke-width="1.6"/>
<text x="53.55" y="649.80" font-size="16" font-weight="bold" text-anchor="end" >10</text>
<line x1="54.85" y1="602.20" x2="60.35" y2="602.20" stroke="#000" stroke-width="1.6"/>
<text x="53.55" y="607.90" font-size="16" font-weight="bold" text-anchor="end" >15</text>
<line x1="54.85" y1="560.30" x2="60.35" y2="560.30" stroke="#000" stroke-width="1.6"/>
<text x="53.55" y="566.00" font-size="16" font-weight="bold" text-anchor="end" >20</text>
<text x="0" y="0" font-size="16" font-weight="bold" text-anchor="start" transform="translate(22.75,726.70) rotate(-90)">Maximal force (kN/m<tspan dx="2.3" dy="-6" font-size="12" font-weight="normal">2</tspan><tspan dy="6">)</tspan></text>
<line x1="93.15" y1="727.90" x2="93.15" y2="733.40" stroke="#000" stroke-width="1.6"/>
<line x1="93.15" y1="593.07" x2="93.15" y2="583.85" stroke="#000" stroke-width="1.8"/>
<line x1="81.95" y1="583.85" x2="104.35" y2="583.85" stroke="#000" stroke-width="1.8"/>
<rect x="71.35" y="593.07" width="43.60" height="134.83" fill="#fff" stroke="#000" stroke-width="1.6"/>
<text x="0" y="0" font-size="16" font-weight="bold" text-anchor="end" transform="translate(98.65,747.80) rotate(-45)">Mt-II 1 h</text>
<line x1="159.25" y1="727.90" x2="159.25" y2="733.40" stroke="#000" stroke-width="1.6"/>
<line x1="159.25" y1="595.83" x2="159.25" y2="590.97" stroke="#000" stroke-width="1.8"/>
<line x1="148.05" y1="590.97" x2="170.45" y2="590.97" stroke="#000" stroke-width="1.8"/>
<rect x="136.65" y="595.03" width="45.20" height="132.87" fill="#000"/>
<text x="0" y="0" font-size="16" font-weight="bold" text-anchor="end" transform="translate(164.75,747.80) rotate(-45)">Control 1 h</text>
<line x1="225.35" y1="727.90" x2="225.35" y2="733.40" stroke="#000" stroke-width="1.6"/>
<line x1="225.35" y1="602.37" x2="225.35" y2="594.16" stroke="#000" stroke-width="1.8"/>
<line x1="214.15" y1="594.16" x2="236.55" y2="594.16" stroke="#000" stroke-width="1.8"/>
<rect x="203.55" y="602.37" width="43.60" height="125.53" fill="#fff" stroke="#000" stroke-width="1.6"/>
<text x="0" y="0" font-size="16" font-weight="bold" text-anchor="end" transform="translate(230.85,747.80) rotate(-45)">Mt-II 5 min</text>
<line x1="291.45" y1="727.90" x2="291.45" y2="733.40" stroke="#000" stroke-width="1.6"/>
<line x1="291.45" y1="591.64" x2="291.45" y2="581.17" stroke="#000" stroke-width="1.8"/>
<line x1="280.25" y1="581.17" x2="302.65" y2="581.17" stroke="#000" stroke-width="1.8"/>
<rect x="268.85" y="590.84" width="45.20" height="137.06" fill="#000"/>
<text x="0" y="0" font-size="16" font-weight="bold" text-anchor="end" transform="translate(296.95,747.80) rotate(-45)">Control 5 min</text>
<text x="369.80" y="546.60" font-size="22.5" font-weight="bold" text-anchor="start" >f</text>
<line x1="418.10" y1="559.40" x2="418.10" y2="729.00" stroke="#000" stroke-width="1.6"/>
<line x1="417.30" y1="728.20" x2="683.40" y2="728.20" stroke="#000" stroke-width="1.6"/>
<line x1="412.60" y1="728.20" x2="418.10" y2="728.20" stroke="#000" stroke-width="1.6"/>
<text x="411.30" y="733.90" font-size="16" font-weight="bold" text-anchor="end" >0.0</text>
<line x1="412.60" y1="686.20" x2="418.10" y2="686.20" stroke="#000" stroke-width="1.6"/>
<text x="411.30" y="691.90" font-size="16" font-weight="bold" text-anchor="end" >0.5</text>
<line x1="412.60" y1="644.20" x2="418.10" y2="644.20" stroke="#000" stroke-width="1.6"/>
<text x="411.30" y="649.90" font-size="16" font-weight="bold" text-anchor="end" >1.0</text>
<line x1="412.60" y1="602.20" x2="418.10" y2="602.20" stroke="#000" stroke-width="1.6"/>
<text x="411.30" y="607.90" font-size="16" font-weight="bold" text-anchor="end" >1.5</text>
<line x1="412.60" y1="560.20" x2="418.10" y2="560.20" stroke="#000" stroke-width="1.6"/>
<text x="411.30" y="565.90" font-size="16" font-weight="bold" text-anchor="end" >2.0</text>
<text x="0" y="0" font-size="15.75" font-weight="bold" text-anchor="start" transform="translate(380.50,723.90) rotate(-90)">Resting force (kN/m<tspan dx="2.3" dy="-6" font-size="12" font-weight="normal">2</tspan><tspan dy="6">)</tspan></text>
<line x1="450.90" y1="728.20" x2="450.90" y2="733.70" stroke="#000" stroke-width="1.6"/>
<line x1="450.90" y1="609.17" x2="450.90" y2="605.98" stroke="#000" stroke-width="1.8"/>
<line x1="439.70" y1="605.98" x2="462.10" y2="605.98" stroke="#000" stroke-width="1.8"/>
<rect x="429.10" y="609.17" width="43.60" height="119.03" fill="#fff" stroke="#000" stroke-width="1.6"/>
<text x="0" y="0" font-size="16" font-weight="bold" text-anchor="end" transform="translate(456.40,748.10) rotate(-45)">Mt-II 1 h</text>
<line x1="517.00" y1="728.20" x2="517.00" y2="733.70" stroke="#000" stroke-width="1.6"/>
<line x1="517.00" y1="604.72" x2="517.00" y2="595.23" stroke="#000" stroke-width="1.8"/>
<line x1="505.80" y1="595.23" x2="528.20" y2="595.23" stroke="#000" stroke-width="1.8"/>
<rect x="494.40" y="603.92" width="45.20" height="124.28" fill="#000"/>
<text x="0" y="0" font-size="16" font-weight="bold" text-anchor="end" transform="translate(522.50,748.10) rotate(-45)">Control 1 h</text>
<line x1="583.10" y1="728.20" x2="583.10" y2="733.70" stroke="#000" stroke-width="1.6"/>
<line x1="583.10" y1="598.50" x2="583.10" y2="589.68" stroke="#000" stroke-width="1.8"/>
<line x1="571.90" y1="589.68" x2="594.30" y2="589.68" stroke="#000" stroke-width="1.8"/>
<rect x="561.30" y="598.50" width="43.60" height="129.70" fill="#fff" stroke="#000" stroke-width="1.6"/>
<text x="0" y="0" font-size="16" font-weight="bold" text-anchor="end" transform="translate(588.60,748.10) rotate(-45)">Mt-II 5 min</text>
<line x1="649.20" y1="728.20" x2="649.20" y2="733.70" stroke="#000" stroke-width="1.6"/>
<line x1="649.20" y1="613.79" x2="649.20" y2="611.78" stroke="#000" stroke-width="1.8"/>
<line x1="638.00" y1="611.78" x2="660.40" y2="611.78" stroke="#000" stroke-width="1.8"/>
<rect x="626.60" y="612.99" width="45.20" height="115.21" fill="#000"/>
<text x="0" y="0" font-size="16" font-weight="bold" text-anchor="end" transform="translate(654.70,748.10) rotate(-45)">Control 5 min</text>
<text x="5.60" y="833.20" font-size="22.5" font-weight="bold" text-anchor="start" >g</text>
<line x1="60.30" y1="842.25" x2="60.30" y2="1011.10" stroke="#000" stroke-width="1.6"/>
<line x1="59.50" y1="1010.30" x2="325.60" y2="1010.30" stroke="#000" stroke-width="1.6"/>
<line x1="54.80" y1="1010.30" x2="60.30" y2="1010.30" stroke="#000" stroke-width="1.6"/>
<text x="53.50" y="1016.00" font-size="16" font-weight="bold" text-anchor="end" >0.0</text>
<line x1="54.80" y1="976.85" x2="60.30" y2="976.85" stroke="#000" stroke-width="1.6"/>
<text x="53.50" y="982.55" font-size="16" font-weight="bold" text-anchor="end" >0.5</text>
<line x1="54.80" y1="943.40" x2="60.30" y2="943.40" stroke="#000" stroke-width="1.6"/>
<text x="53.50" y="949.10" font-size="16" font-weight="bold" text-anchor="end" >1.0</text>
<line x1="54.80" y1="909.95" x2="60.30" y2="909.95" stroke="#000" stroke-width="1.6"/>
<text x="53.50" y="915.65" font-size="16" font-weight="bold" text-anchor="end" >1.5</text>
<line x1="54.80" y1="876.50" x2="60.30" y2="876.50" stroke="#000" stroke-width="1.6"/>
<text x="53.50" y="882.20" font-size="16" font-weight="bold" text-anchor="end" >2.0</text>
<line x1="54.80" y1="843.05" x2="60.30" y2="843.05" stroke="#000" stroke-width="1.6"/>
<text x="53.50" y="848.75" font-size="16" font-weight="bold" text-anchor="end" >2.5</text>
<text x="0" y="0" font-size="16" font-weight="bold" text-anchor="start" transform="translate(16.90,988.20) rotate(-90)">Maximal <tspan font-style="italic" font-weight="normal">k</tspan><tspan font-weight="normal" font-size="11" dy="3.3">TR</tspan><tspan font-weight="normal" dy="-3.3"> (s</tspan><tspan font-weight="normal" font-size="11" dx="1.8" dy="-7">-1</tspan><tspan font-weight="normal" dx="1.6" dy="7">)</tspan></text>
<line x1="93.10" y1="1010.30" x2="93.10" y2="1015.80" stroke="#000" stroke-width="1.6"/>
<line x1="93.10" y1="908.48" x2="93.10" y2="902.59" stroke="#000" stroke-width="1.8"/>
<line x1="81.90" y1="902.59" x2="104.30" y2="902.59" stroke="#000" stroke-width="1.8"/>
<rect x="71.30" y="908.48" width="43.60" height="101.82" fill="#fff" stroke="#000" stroke-width="1.6"/>
<text x="0" y="0" font-size="16" font-weight="bold" text-anchor="end" transform="translate(98.60,1031.10) rotate(-45)">Mt-II 1 h</text>
<line x1="159.20" y1="1010.30" x2="159.20" y2="1015.80" stroke="#000" stroke-width="1.6"/>
<line x1="159.20" y1="893.22" x2="159.20" y2="880.98" stroke="#000" stroke-width="1.8"/>
<line x1="148.00" y1="880.98" x2="170.40" y2="880.98" stroke="#000" stroke-width="1.8"/>
<rect x="136.60" y="892.42" width="45.20" height="117.88" fill="#000"/>
<text x="0" y="0" font-size="16" font-weight="bold" text-anchor="end" transform="translate(164.70,1031.10) rotate(-45)">Control 1 h</text>
<line x1="225.30" y1="1010.30" x2="225.30" y2="1015.80" stroke="#000" stroke-width="1.6"/>
<line x1="225.30" y1="882.19" x2="225.30" y2="875.70" stroke="#000" stroke-width="1.8"/>
<line x1="214.10" y1="875.70" x2="236.50" y2="875.70" stroke="#000" stroke-width="1.8"/>
<rect x="203.50" y="882.19" width="43.60" height="128.11" fill="#fff" stroke="#000" stroke-width="1.6"/>
<text x="0" y="0" font-size="16" font-weight="bold" text-anchor="end" transform="translate(230.80,1031.10) rotate(-45)">Mt-II 5 min</text>
<line x1="291.40" y1="1010.30" x2="291.40" y2="1015.80" stroke="#000" stroke-width="1.6"/>
<line x1="291.40" y1="907.01" x2="291.40" y2="895.30" stroke="#000" stroke-width="1.8"/>
<line x1="280.20" y1="895.30" x2="302.60" y2="895.30" stroke="#000" stroke-width="1.8"/>
<rect x="268.80" y="906.21" width="45.20" height="104.09" fill="#000"/>
<text x="0" y="0" font-size="16" font-weight="bold" text-anchor="end" transform="translate(296.90,1031.10) rotate(-45)">Control 5 min</text>
</svg></body></html>
